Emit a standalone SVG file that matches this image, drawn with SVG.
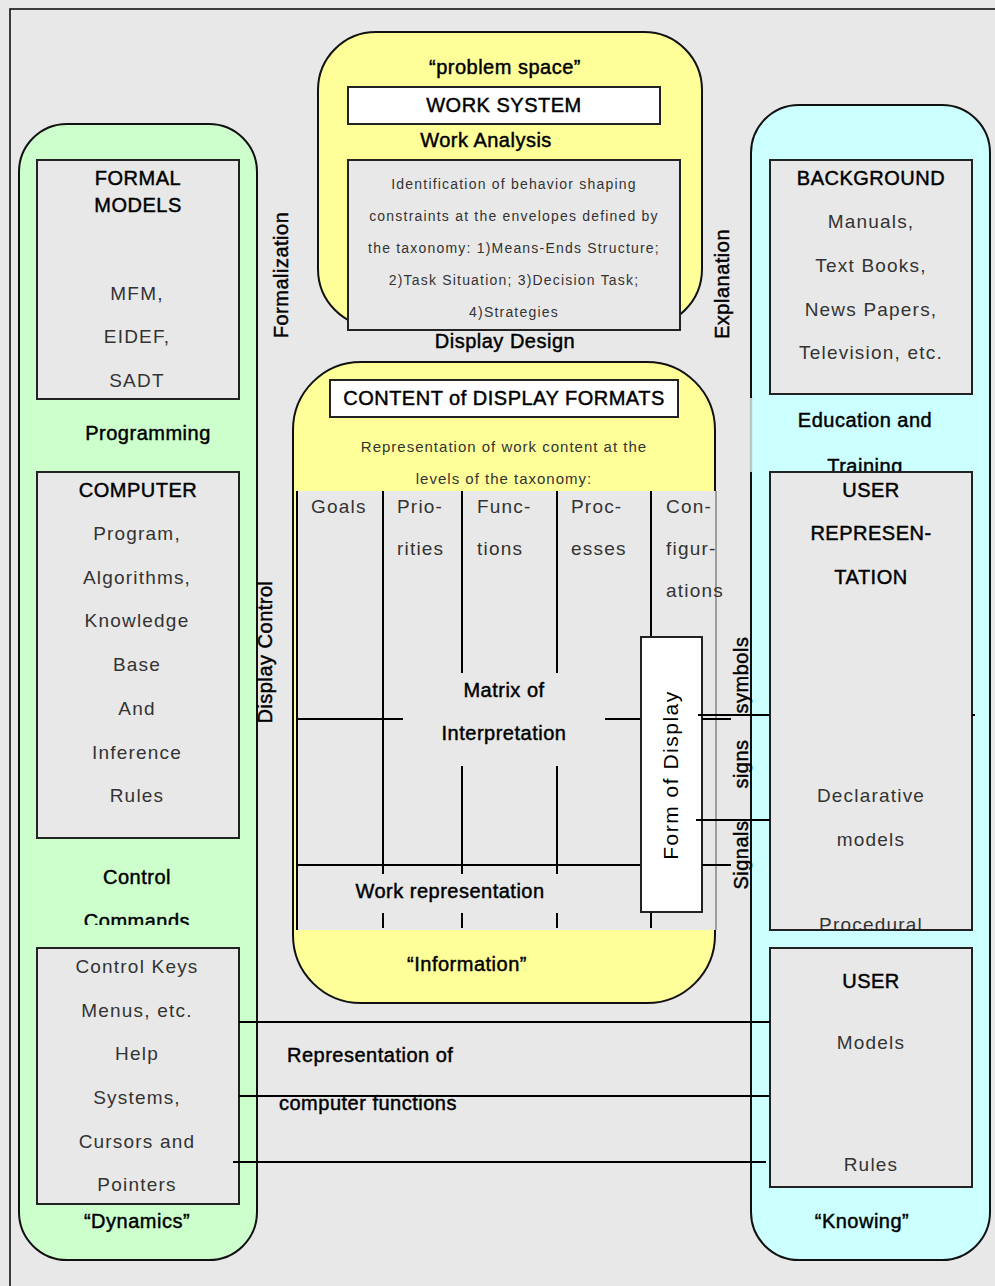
<svg xmlns="http://www.w3.org/2000/svg" width="995" height="1286" viewBox="0 0 995 1286">
  <style>
    .hd { font-family: "Liberation Sans", Arial, sans-serif; font-size: 20px; fill: #000; stroke: #000; stroke-width: 0.45; letter-spacing: 0.5px; }
    .bd { font-family: "Liberation Sans", Arial, sans-serif; font-size: 19px; fill: #333; letter-spacing: 1.2px; }
    .sm { font-family: "Liberation Sans", Arial, sans-serif; font-size: 14px; fill: #333; letter-spacing: 1.2px; }
    .md { font-family: "Liberation Sans", Arial, sans-serif; font-size: 15px; fill: #333; letter-spacing: 1px; }
    .c { text-anchor: middle; }
    .panel { stroke: #111; stroke-width: 2; }
    .box { fill: #e8e8e8; stroke: #222; stroke-width: 2; }
    .wbox { fill: #fff; stroke: #222; stroke-width: 2; }
    .ln { stroke: #000; stroke-width: 2; fill: none; }
  </style>
  <defs>
    <clipPath id="clipCommands"><rect x="19" y="900" width="238" height="25"/></clipPath>
    <clipPath id="clipProcedural"><rect x="771" y="900" width="200" height="29"/></clipPath>
  </defs>

  <!-- page background and frame -->
  <rect x="0" y="0" width="995" height="1286" fill="#e8e8e8"/>
  <rect x="10" y="9" width="1000" height="1300" fill="none" stroke="#111" stroke-width="1.6"/>

  <!-- left column: Dynamics -->
  <g id="dynamics">
    <rect class="panel" x="19" y="124" width="238" height="1136" rx="48" fill="#ccffcc"/>
    <text class="hd c" x="137" y="1221" dy="0.35em">“Dynamics”</text>
  </g>
  <g id="formal-models">
    <rect class="box" x="37" y="160" width="202" height="239"/>
    <text class="hd c" x="138" y="178" dy="0.35em">FORMAL</text>
    <text class="hd c" x="138" y="205" dy="0.35em">MODELS</text>
    <text class="bd c" x="137" y="293" dy="0.35em">MFM,</text>
    <text class="bd c" x="137" y="336" dy="0.35em">EIDEF,</text>
    <text class="bd c" x="137" y="380" dy="0.35em">SADT</text>
  </g>
  <text class="hd c" x="148" y="433" dy="0.35em">Programming</text>
  <g id="computer">
    <rect class="box" x="37" y="472" width="202" height="366"/>
    <text class="hd c" x="138" y="490" dy="0.35em">COMPUTER</text>
    <text class="bd c" x="137" y="533" dy="0.35em">Program,</text>
    <text class="bd c" x="137" y="577" dy="0.35em">Algorithms,</text>
    <text class="bd c" x="137" y="620" dy="0.35em">Knowledge</text>
    <text class="bd c" x="137" y="664" dy="0.35em">Base</text>
    <text class="bd c" x="137" y="708" dy="0.35em">And</text>
    <text class="bd c" x="137" y="752" dy="0.35em">Inference</text>
    <text class="bd c" x="137" y="795" dy="0.35em">Rules</text>
  </g>
  <text class="hd c" x="137" y="877" dy="0.35em">Control</text>
  <text class="hd c" x="137" y="921" dy="0.35em" clip-path="url(#clipCommands)">Commands</text>
  <g id="control-keys">
    <rect class="box" x="37" y="948" width="202" height="256"/>
    <text class="bd c" x="137" y="966" dy="0.35em">Control Keys</text>
    <text class="bd c" x="137" y="1010" dy="0.35em">Menus, etc.</text>
    <text class="bd c" x="137" y="1053" dy="0.35em">Help</text>
    <text class="bd c" x="137" y="1097" dy="0.35em">Systems,</text>
    <text class="bd c" x="137" y="1141" dy="0.35em">Cursors and</text>
    <text class="bd c" x="137" y="1184" dy="0.35em">Pointers</text>
  </g>

  <!-- side labels -->
  <text class="hd c" transform="translate(281 275) rotate(-90)" dy="0.35em">Formalization</text>
  <text class="hd c" transform="translate(265 652) rotate(-90)" dy="0.35em">Display Control</text>
  <text class="hd c" transform="translate(722 284) rotate(-90)" dy="0.35em">Explanation</text>

  <!-- top: problem space / work system -->
  <g id="problem-space">
    <rect class="panel" x="318" y="32" width="384" height="295" rx="58" fill="#ffff99"/>
    <text class="hd c" x="505" y="67" dy="0.35em">“problem space”</text>
  </g>
  <g id="work-system">
    <rect class="wbox" x="348" y="87" width="312" height="37"/>
    <text class="hd c" x="504" y="105" dy="0.35em">WORK SYSTEM</text>
  </g>
  <text class="hd c" x="486" y="140" dy="0.35em">Work Analysis</text>
  <g id="work-analysis">
    <rect class="box" x="348" y="160" width="332" height="170"/>
    <text class="sm c" x="514" y="184" dy="0.35em">Identification of behavior shaping</text>
    <text class="sm c" x="514" y="216" dy="0.35em">constraints at the envelopes defined by</text>
    <text class="sm c" x="514" y="248" dy="0.35em">the taxonomy: 1)Means-Ends Structure;</text>
    <text class="sm c" x="514" y="280" dy="0.35em">2)Task Situation; 3)Decision Task;</text>
    <text class="sm c" x="514" y="312" dy="0.35em">4)Strategies</text>
  </g>
  <text class="hd c" x="505" y="341" dy="0.35em">Display Design</text>

  <!-- center: information / display formats -->
  <g id="information">
    <rect class="panel" x="293" y="362" width="422" height="641" rx="68" fill="#ffff99"/>
    <text class="hd c" x="467" y="964" dy="0.35em">“Information”</text>
  </g>
  <g id="display-formats">
    <rect class="wbox" x="330" y="380" width="348" height="37"/>
    <text class="hd c" x="504" y="398" dy="0.35em">CONTENT of DISPLAY FORMATS</text>
    <text class="md c" x="504" y="447" dy="0.35em">Representation of work content at the</text>
    <text class="md c" x="504" y="479" dy="0.35em">levels of the taxonomy:</text>
  </g>
  <g id="matrix">
    <rect x="297" y="491" width="419" height="439" fill="#e8e8e8"/>
    <line x1="716" y1="491" x2="716" y2="930" stroke="#555" stroke-width="1"/>
    <line class="ln" x1="297" y1="491" x2="297" y2="930"/>
    <!-- column dividers -->
    <path class="ln" d="M383 491V874M383 913V928M462 491V673M462 766V874M462 913V928M557 491V673M557 766V874M557 913V928M651 491V637M651 912V928"/>
    <!-- row dividers -->
    <path class="ln" d="M297 719H403M605 719H641M297 865H641"/>
    <text class="bd" x="311" y="506" dy="0.35em">Goals</text>
    <text class="bd" x="397" y="506" dy="0.35em">Prio-</text>
    <text class="bd" x="397" y="548" dy="0.35em">rities</text>
    <text class="bd" x="477" y="506" dy="0.35em">Func-</text>
    <text class="bd" x="477" y="548" dy="0.35em">tions</text>
    <text class="bd" x="571" y="506" dy="0.35em">Proc-</text>
    <text class="bd" x="571" y="548" dy="0.35em">esses</text>
    <text class="bd" x="666" y="506" dy="0.35em">Con-</text>
    <text class="bd" x="666" y="548" dy="0.35em">figur-</text>
    <text class="bd" x="666" y="590" dy="0.35em">ations</text>
    <text class="hd c" x="504" y="690" dy="0.35em">Matrix of</text>
    <text class="hd c" x="504" y="733" dy="0.35em">Interpretation</text>
    <text class="hd c" x="450" y="891" dy="0.35em">Work representation</text>
  </g>
  <g id="form-of-display">
    <rect class="wbox" x="641" y="637" width="61" height="275"/>
    <text class="c" transform="translate(671 775) rotate(-90)" dy="0.35em" font-family="Liberation Sans, Arial, sans-serif" font-size="21" fill="#000" letter-spacing="1.5">Form of Display</text>
  </g>

  <!-- right column: Knowing -->
  <g id="knowing">
    <rect class="panel" x="751" y="105" width="239" height="1155" rx="48" fill="#ccffff"/>
    <line x1="751" y1="398" x2="751" y2="472" stroke="#b8c8c8" stroke-width="2.5"/>
    <text class="hd c" x="862" y="1221" dy="0.35em">“Knowing”</text>
  </g>
  <g id="background">
    <rect class="box" x="770" y="160" width="202" height="234"/>
    <text class="hd c" x="871" y="178" dy="0.35em">BACKGROUND</text>
    <text class="bd c" x="871" y="221" dy="0.35em">Manuals,</text>
    <text class="bd c" x="871" y="265" dy="0.35em">Text Books,</text>
    <text class="bd c" x="871" y="309" dy="0.35em">News Papers,</text>
    <text class="bd c" x="871" y="352" dy="0.35em">Television, etc.</text>
  </g>
  <text class="hd c" x="865" y="420" dy="0.35em">Education and</text>
  <text class="hd c" x="865" y="466" dy="0.35em">Training</text>
  <g id="user-representation">
    <rect class="box" x="770" y="472" width="202" height="458"/>
    <text class="hd c" x="871" y="490" dy="0.35em">USER</text>
    <text class="hd c" x="871" y="533" dy="0.35em">REPRESEN-</text>
    <text class="hd c" x="871" y="577" dy="0.35em">TATION</text>
    <text class="bd c" x="871" y="795" dy="0.35em">Declarative</text>
    <text class="bd c" x="871" y="839" dy="0.35em">models</text>
    <text class="bd c" x="871" y="924" dy="0.35em" clip-path="url(#clipProcedural)">Procedural</text>
  </g>
  <g id="user-models">
    <rect class="box" x="770" y="948" width="202" height="239"/>
    <text class="hd c" x="871" y="981" dy="0.35em">USER</text>
    <text class="bd c" x="871" y="1042" dy="0.35em">Models</text>
    <text class="bd c" x="871" y="1164" dy="0.35em">Rules</text>
  </g>

  <!-- connectors -->
  <g id="connectors">
    <path class="ln" d="M698 715H770M972 715H975"/>
    <path class="ln" d="M702 719H731M702 865H731"/>
    <path class="ln" d="M696 820H770"/>
    <path class="ln" d="M239 1022H770M239 1096H770M233 1162H766"/>
    <text class="hd c" transform="translate(741 675) rotate(-90)" dy="0.35em" font-size="18">symbols</text>
    <text class="hd c" transform="translate(741 764) rotate(-90)" dy="0.35em" font-size="18">signs</text>
    <text class="hd c" transform="translate(741 855) rotate(-90)" dy="0.35em" font-size="18">Signals</text>
    <text class="hd" x="287" y="1055" dy="0.35em">Representation of</text>
    <text class="hd" x="279" y="1103" dy="0.35em">computer functions</text>
  </g>
</svg>
